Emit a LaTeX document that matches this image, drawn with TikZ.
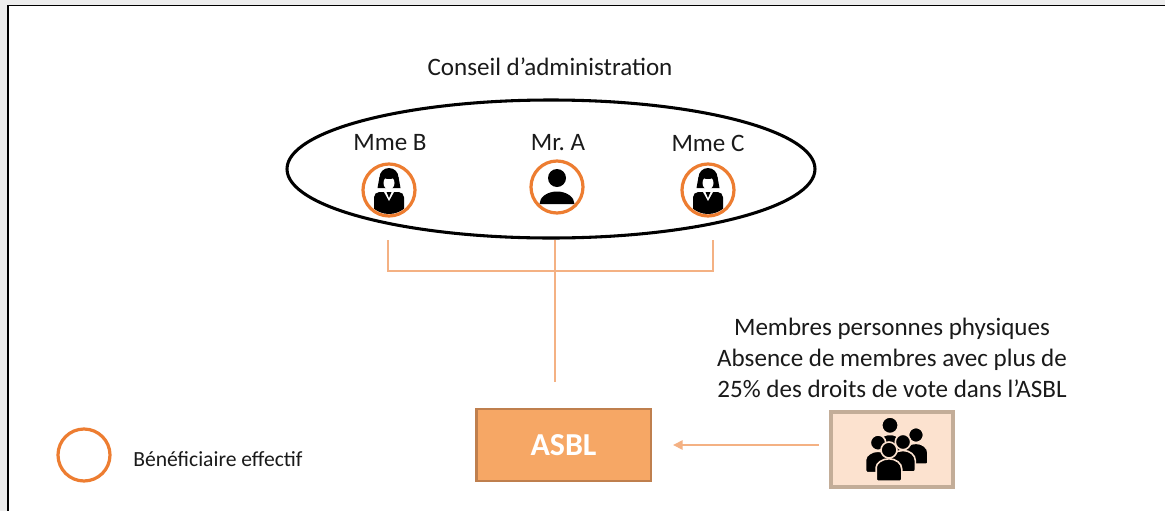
\documentclass[tikz,border=0pt]{standalone}
\usepackage{fontspec}
\setmainfont{Carlito}
\usetikzlibrary{arrows.meta}
\definecolor{ring}{HTML}{ED7D31}
\definecolor{conn}{HTML}{F4B183}
\definecolor{asblfill}{HTML}{F6A765}
\definecolor{asbldraw}{HTML}{BF7F4E}
\definecolor{memfill}{HTML}{FCE2CF}
\definecolor{memdraw}{HTML}{C3AD98}
\definecolor{txt}{HTML}{1A1A1A}
\tikzset{
  ringnode/.style={circle, draw=ring, line width=2.4pt, minimum size=39pt, inner sep=0pt},
  connline/.style={draw=conn, line width=0.8pt},
  lbl/.style={font=\fontsize{18.8}{23}\selectfont, text=txt, inner sep=0pt},
  legtxt/.style={font=\fontsize{16.2}{19}\selectfont, text=txt, inner sep=0pt},
  asblbox/.style={draw=asbldraw, fill=asblfill, line width=2pt, minimum width=131pt, minimum height=54pt,
    text=white, font=\bfseries\fontsize{24}{28}\selectfont, inner sep=0pt},
  membox/.style={draw=memdraw, fill=memfill, line width=2.2pt, minimum width=90pt, minimum height=54.75pt, inner sep=0pt},
  arrowline/.style={draw=conn, line width=0.9pt, -{Triangle[length=7pt,width=7pt]}},
}
\newcommand\womanicon[2]{%
  \begin{scope}[shift={(#1,#2)}]
    \clip (0,0) circle (24);
    \fill[black] (0,-12.5) ellipse [x radius=9.5, y radius=9.5];
    \fill[black] (-11.5,-2) -- (-9.5,-13) -- (9.5,-13) -- (11.5,-2) -- cycle;
    \fill[white] (0,-7) ellipse [x radius=5.5, y radius=6.5];
    \fill[black] (0,-14) ellipse [x radius=6.5, y radius=3];
    \fill[black, rounded corners=4pt] (-15,30) -- (-15,2) -- (15,2) -- (15,30) -- cycle;
    \fill[white] (-5,2) -- (5,2) -- (0,11) -- cycle;
    \fill[black] (-2.5,2) -- (2.5,2) -- (0,8) -- cycle;
  \end{scope}}
\newcommand\manicon[2]{%
  \begin{scope}[shift={(#1,#2)}]
    \fill[black] (0,-9) circle (9);
    \fill[black] (-17.5,17) arc[start angle=180, end angle=360, x radius=17.5, y radius=12.5] -- cycle;
  \end{scope}}
\newcommand\grpperson[3]{%
  \filldraw[black, draw=memfill, line width=1.2pt, rounded corners=1.5pt]
    ({#1-1.6*#3},{#2+3.9*#3}) -- ({#1-1.6*#3},{#2+2.4*#3})
    [sharp corners] arc[start angle=180, end angle=360, x radius={1.6*#3}, y radius={1.3*#3}]
    [rounded corners=1.5pt] -- ({#1+1.6*#3},{#2+3.9*#3}) -- cycle;
  \filldraw[black, draw=memfill, line width=1.2pt] (#1,#2) circle (#3);}
\begin{document}
\begin{tikzpicture}[x=0.75pt,y=-0.75pt]
\useasboundingbox (0,0) rectangle (1165,511);
\fill[white] (0,0) rectangle (1165,511);
\fill[black!7] (0,0) rectangle (1165,5);
\fill[black!7] (0,0) rectangle (8,511);
\draw[line width=1.3pt] (8,511) -- (8,5.5) -- (1165,5.5);

% board
\node[lbl] (title) at (550,67) {Conseil d’administration};
\draw[line width=2.3pt] (551,169) ellipse [x radius=264, y radius=69];
\node[lbl] (lb) at (390,143) {Mme B};
\node[lbl] (la) at (558,143) {Mr.\ A};
\node[lbl] (lc) at (708,143) {Mme C};

\womanicon{389}{190}
\manicon{557}{187}
\womanicon{708}{190}
\node[ringnode] (mb) at (389,190) {};
\node[ringnode] (ma) at (557,187) {};
\node[ringnode] (mc) at (708,190) {};

% connectors
\coordinate (bL) at (388,240);
\coordinate (bLb) at (388,271);
\coordinate (bR) at (713,240);
\coordinate (bRb) at (713,271);
\coordinate (cT) at (555,240);
\coordinate (cB) at (555,382);
\draw[connline] (bL) -- (bLb) -- (bRb) -- (bR);
\draw[connline] (cT) -- (cB);

% ASBL
\node[asblbox] (asbl) at (563.5,445) {ASBL};

% members
\node[lbl, align=center] (memtxt) at (892,358)
  {Membres personnes physiques\\Absence de membres avec plus de\\25\% des droits de vote dans l’ASBL};
\node[membox] (mem) at (892,449.5) {};
\begin{scope}
\clip (mem.north west) rectangle (mem.south east);
\grpperson{890}{425.3}{8.3}
\grpperson{916}{435}{7.5}
\grpperson{903}{442}{7.7}
\grpperson{878}{442.7}{7.7}
\grpperson{889}{450}{8}
\end{scope}
\draw[draw=memdraw, line width=2.2pt] (mem.north west) rectangle (mem.south east);

\draw[arrowline, shorten <=9pt, shorten >=15.75pt] (mem.west |- asbl.east) -- (asbl.east);

% legend
\node[ringnode] (leg) at (84,455) {};
\node[legtxt, anchor=west] (legt) at (133,459) {Bénéficiaire effectif};
\end{tikzpicture}
\end{document}
